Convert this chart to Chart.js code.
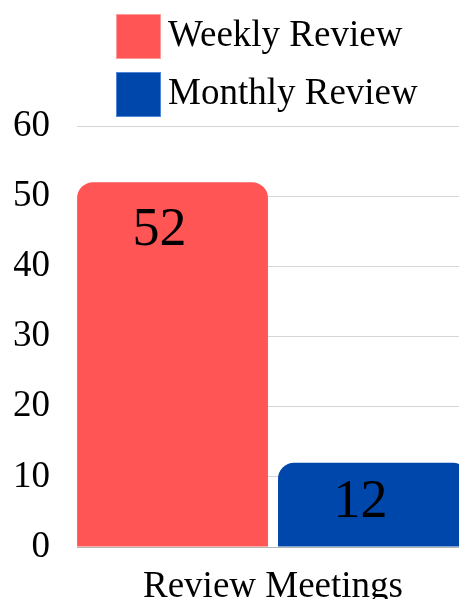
<!DOCTYPE html>
<html><head><meta charset="utf-8">
<script src="https://cdn.jsdelivr.net/npm/chart.js@4.4.0/dist/chart.umd.min.js"></script>
<style>
html,body{margin:0;padding:0;overflow:hidden;background:#fff;width:459px;height:599px}
#wrap{width:469px;height:606px;position:relative}
</style></head><body>
<div id="wrap"><canvas id="c" width="469" height="606"></canvas></div>
<script>
const categories = ['Review Meetings'];
const seriesNames = ['Weekly Review', 'Monthly Review'];
const weeklyValues = [52];
const monthlyValues = [12];
const yTicks = [0, 10, 20, 30, 40, 50, 60];
const seriesColors = ['#FF5555', '#0047AB'];
const seriesEdge = ['#FF9A9A', '#4F86D6'];

const FAMILY = "'Liberation Serif', 'Times New Roman', serif";

const customLegend = {
  id: 'customLegend',
  afterDraw(chart) {
    const ctx = chart.ctx;
    ctx.save();
    chart.data.datasets.forEach((ds, i) => {
      const bx = 116, by = 14 + i * 58, s = 45;
      ctx.fillStyle = ds.backgroundColor;
      ctx.fillRect(bx, by, s, s);
      ctx.lineWidth = 1;
      ctx.strokeStyle = ds.legendEdge;
      ctx.strokeRect(bx + 0.5, by + 0.5, s - 1, s - 1);
      ctx.fillStyle = '#000';
      ctx.font = '37px ' + FAMILY;
      ctx.textAlign = 'left';
      ctx.textBaseline = 'alphabetic';
      ctx.fillText(ds.label, 168, 46 + i * 58);
    });
    ctx.restore();
  }
};

const valueLabels = {
  id: 'valueLabels',
  afterDatasetsDraw(chart) {
    const ctx = chart.ctx;
    ctx.save();
    ctx.font = '54px ' + FAMILY;
    ctx.fillStyle = '#000';
    ctx.textAlign = 'center';
    ctx.textBaseline = 'middle';
    chart.data.datasets.forEach((ds, di) => {
      chart.getDatasetMeta(di).data.forEach((el, j) => {
        const top = el.y, base = el.base;
        const y = top + Math.min(49, (base - top) / 2 - 2);
        ctx.fillText(String(ds.data[j]), el.x - 13, y);
      });
    });
    ctx.restore();
  }
};

new Chart(document.getElementById('c'), {
  type: 'bar',
  data: {
    labels: categories,
    datasets: [
      { label: seriesNames[0], data: weeklyValues, backgroundColor: seriesColors[0], legendEdge: seriesEdge[0], borderRadius: 16, borderSkipped: 'bottom' },
      { label: seriesNames[1], data: monthlyValues, backgroundColor: seriesColors[1], legendEdge: seriesEdge[1], borderRadius: 16, borderSkipped: 'bottom' }
    ]
  },
  options: {
    responsive: false,
    animation: false,
    datasets: { bar: { categoryPercentage: 1.025, barPercentage: 0.95 } },
    layout: { padding: { top: 126, left: 14, right: 0, bottom: 0 } },
    plugins: { legend: { display: false }, tooltip: { enabled: false } },
    scales: {
      x: {
        grid: { display: false },
        border: { display: true, color: '#b5b5b5' },
        ticks: { font: { family: FAMILY, size: 37 }, color: '#000', padding: 10 },
        afterFit: (s) => { s.height = 59; }
      },
      y: {
        min: 0, max: 60,
        afterBuildTicks: (s) => { s.ticks = yTicks.map(v => ({ value: v })); },
        ticks: { font: { family: FAMILY, size: 37 }, color: '#000', padding: 27 },
        grid: { color: '#d6d6d6', drawTicks: false },
        border: { display: false },
        afterFit: (s) => { s.width = 63; }
      }
    }
  },
  plugins: [customLegend, valueLabels]
});
</script>
</body></html>
